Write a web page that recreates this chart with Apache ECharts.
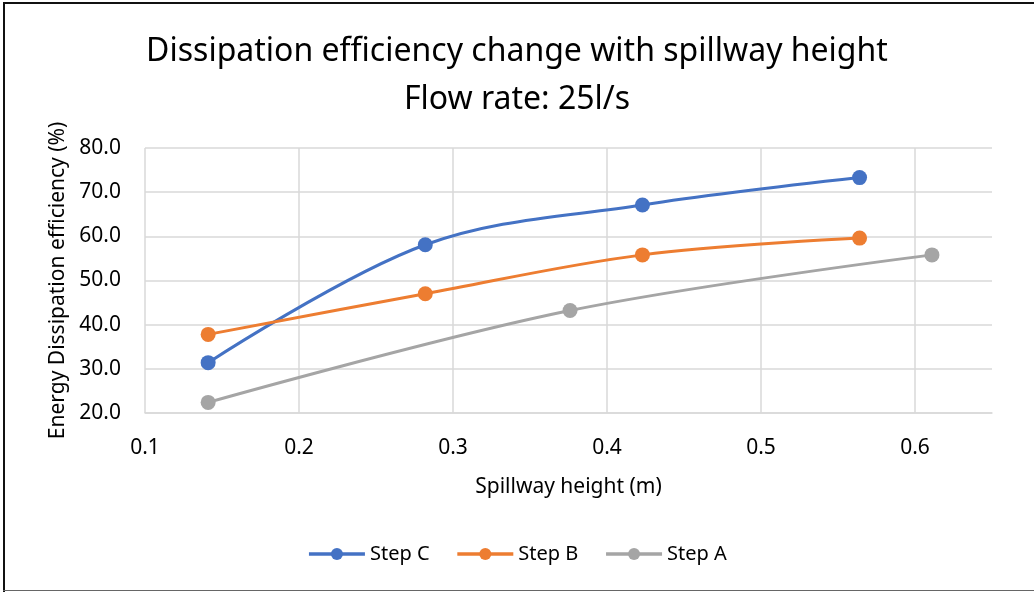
<!DOCTYPE html>
<html>
<head>
<meta charset="utf-8">
<script src="https://cdn.jsdelivr.net/npm/echarts@6/dist/echarts.min.js"></script>
<style>
html,body{margin:0;padding:0;background:#fff;}
#c{width:1034px;height:592px;}
</style>
</head>
<body>
<div id="c"></div>
<script>
const titleLines = ['Dissipation efficiency change with spillway height', 'Flow rate: 25l/s'];
const xAxisName = 'Spillway height (m)';
const yAxisName = 'Energy Dissipation efficiency (%)';
const seriesNames = ['Step C', 'Step B', 'Step A'];
const stepCx = [0.141, 0.282, 0.423, 0.564];
const stepCy = [31.4, 58.1, 67.1, 73.3];
const stepBx = [0.141, 0.282, 0.423, 0.564];
const stepBy = [37.8, 47.0, 55.8, 59.6];
const stepAx = [0.141, 0.376, 0.611];
const stepAy = [22.4, 43.2, 55.8];
const colors = ['#4472C4', '#ED7D31', '#A5A5A5'];

const FONT = 'Noto Sans';
const chart = echarts.init(document.getElementById('c'), null, {renderer: 'canvas'});
function pts(xs, ys){ return xs.map((x,i)=>[x, ys[i]]); }
const dataSets = [pts(stepCx, stepCy), pts(stepBx, stepBy), pts(stepAx, stepAy)];

chart.setOption({
  animation: false,
  backgroundColor: '#fff',
  color: colors,
  title: {
    text: titleLines.join('\n'),
    left: 'center',
    top: 23,
    textStyle: {fontFamily: FONT, fontSize: 32, fontWeight: 'normal', color: '#000', lineHeight: 48}
  },
  grid: {left: 145, right: 42, top: 148, bottom: 179},
  legend: {
    data: seriesNames,
    bottom: 23,
    left: 'center',
    itemWidth: 56,
    itemHeight: 15,
    itemGap: 26,
    lineStyle: {width: 3.5},
    textStyle: {fontFamily: FONT, fontSize: 20, color: '#000'}
  },
  xAxis: {
    type: 'value',
    min: 0.1, max: 0.65, interval: 0.1,
    name: xAxisName,
    nameLocation: 'middle',
    nameGap: 64,
    nameTextStyle: {fontFamily: FONT, fontSize: 21, color: '#000'},
    axisLine: {show: true, lineStyle: {color: '#d9d9d9', width: 1.5}},
    axisTick: {show: false},
    axisLabel: {fontFamily: FONT, fontSize: 21, color: '#000', margin: 25,
      formatter: v => v > 0.62 ? '' : v.toFixed(1)},
    splitLine: {show: true, showMaxLine: false, lineStyle: {color: '#d9d9d9', width: 1.5}}
  },
  yAxis: {
    type: 'value',
    min: 20, max: 80, interval: 10,
    name: yAxisName,
    nameLocation: 'middle',
    nameGap: 64,
    nameTextStyle: {fontFamily: FONT, fontSize: 21, color: '#000'},
    axisLine: {show: false},
    axisTick: {show: false},
    axisLabel: {fontFamily: FONT, fontSize: 21, color: '#000', margin: 24,
      formatter: v => v.toFixed(1)},
    splitLine: {show: true, lineStyle: {color: '#d9d9d9', width: 1.5}}
  },
  series: seriesNames.map((n, i) => ({
    name: n,
    type: 'line',
    data: dataSets[i],
    smooth: 0.35,
    symbol: 'circle',
    symbolSize: 15,
    lineStyle: {width: 3, color: colors[i]},
    itemStyle: {color: colors[i]}
  })),
  graphic: [
    {type: 'rect', shape: {x: 3, y: 2, width: 1040, height: 2}, style: {fill: '#111'}, silent: true},
    {type: 'rect', shape: {x: 3, y: 2, width: 2, height: 600}, style: {fill: '#111'}, silent: true},
    {type: 'rect', shape: {x: 3, y: 590, width: 1040, height: 1}, style: {fill: '#666'}, silent: true}
  ]
});
</script>
</body>
</html>
